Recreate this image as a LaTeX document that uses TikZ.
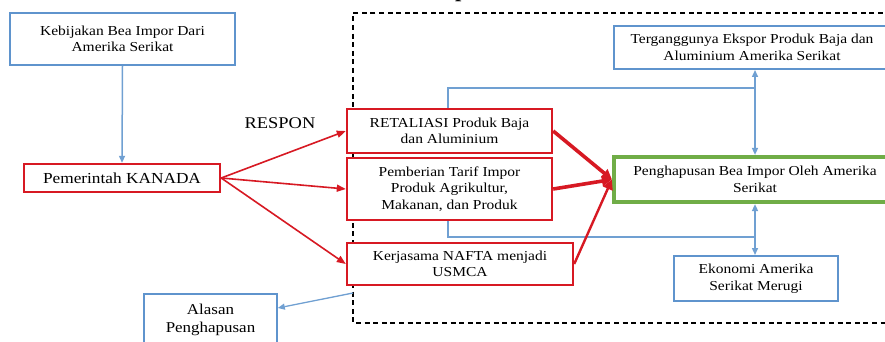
\documentclass[tikz,border=0pt]{standalone}
\usepackage{fontspec}
\setmainfont[FakeStretch=1.13]{Liberation Serif}
\usetikzlibrary{arrows.meta}
\definecolor{bbox}{RGB}{95,148,205}
\definecolor{bline}{RGB}{112,160,210}
\definecolor{rbox}{RGB}{215,25,35}
\definecolor{gbox}{RGB}{112,173,71}
\tikzset{
  txt/.style={font=\fontsize{13.7}{16.5}\selectfont, align=center, inner sep=0pt},
  bluebox/.style={txt, draw=bbox, line width=2pt, fill=white},
  redbox/.style={txt, draw=rbox, line width=2.4pt, fill=white},
  greenbox/.style={txt, draw=gbox, line width=4.2pt, fill=white},
  bl/.style={draw=bline, line width=1.5pt},
  blarrow/.style={-{Triangle[length=7pt,width=6pt]}},
  redthin/.style={draw=rbox, line width=1.6pt, -{Triangle[length=9pt,width=7pt]}},
  redthick/.style={draw=rbox, line width=3.6pt, -{Triangle[length=10pt,width=10pt]}},
  dashbox/.style={draw=black, line width=1.2pt, dash pattern=on 5pt off 3.6pt}
}
\begin{document}
\begin{tikzpicture}[x=1pt,y=-1pt]
\useasboundingbox (0,0) rectangle (885,342);
\fill[white] (0,0) rectangle (885,342);
% title fragment cut off at top
\node[anchor=base west, inner sep=0pt, font=\fontsize{20}{24}\selectfont\bfseries] (title) at (455,-2) {p};
% dashed frame
\draw[dashbox] (900,13) -- (353,13) -- (353,323) -- (900,323);
\coordinate (c448) at (448,0);
\coordinate (c88) at (0,88);
\coordinate (c237) at (0,237);
\coordinate (c308) at (0,308);
\coordinate (dx) at (353,293);
% nodes
\node[bluebox, minimum width=225pt, minimum height=52pt] (keb) at (122.5,39) {Kebijakan Bea Impor Dari\\Amerika Serikat};
\node[redbox, minimum width=196pt, minimum height=28pt, font=\fontsize{15.3}{18}\selectfont] (pem) at (122,178) {Pemerintah KANADA};
\node[txt, font=\fontsize{16.3}{19}\selectfont] (respon) at (280,123) {RESPON};
\node[redbox, minimum width=205pt, minimum height=44pt] (ret) at (449.5,131) {RETALIASI Produk Baja\\dan Aluminium};
\node[redbox, minimum width=205pt, minimum height=62pt] (pb) at (449.5,189) {Pemberian Tarif Impor\\Produk Agrikultur,\\Makanan, dan Produk};
\node[redbox, minimum width=226pt, minimum height=42pt] (ker) at (460,264) {Kerjasama NAFTA menjadi\\USMCA};
\node[greenbox, minimum width=282pt, minimum height=45pt] (gr) at (755,179.5) {Penghapusan Bea Impor Oleh Amerika\\Serikat};
\node[bluebox, minimum width=276pt, minimum height=43pt] (tg) at (752,47.5) {Terganggunya Ekspor Produk Baja dan\\Aluminium Amerika Serikat};
\node[bluebox, minimum width=164pt, minimum height=45pt] (ek) at (756,278.5) {Ekonomi Amerika\\Serikat Merugi};
\node[bluebox, line width=1.6pt, minimum width=133pt, minimum height=52pt, font=\fontsize{15}{18.5}\selectfont] (al) at (210.5,320) {Alasan\\Penghapusan};
% blue connectors
\draw[bl, blarrow] (keb.south) -- (pem.north);
\draw[bl] (ret.north -| c448) |- (gr.north |- c88);
\draw[bl, {Triangle[length=7pt,width=6pt]}-{Triangle[length=7pt,width=6pt]}] (gr.north) -- (gr.north |- tg.south);
\draw[bl] (pb.south -| c448) |- (gr.south |- c237);
\draw[bl, {Triangle[length=7pt,width=6pt]}-{Triangle[length=7pt,width=6pt]}] (gr.south) -- (gr.south |- ek.north);
\draw[bl, line width=1.3pt, blarrow] (dx) -- (al.east |- c308);
% red arrows
\draw[redthin] (pem.east) -- (ret.west);
\draw[redthin] (pem.east) -- (pb.west);
\draw[redthin] (pem.east) -- (ker.west);
\draw[redthick] (ret.east) -- (gr.west);
\draw[redthick] (pb.east) -- (gr.west);
\draw[redthick, line width=2.4pt] (ker.east) -- (gr.west);
\end{tikzpicture}
\end{document}
